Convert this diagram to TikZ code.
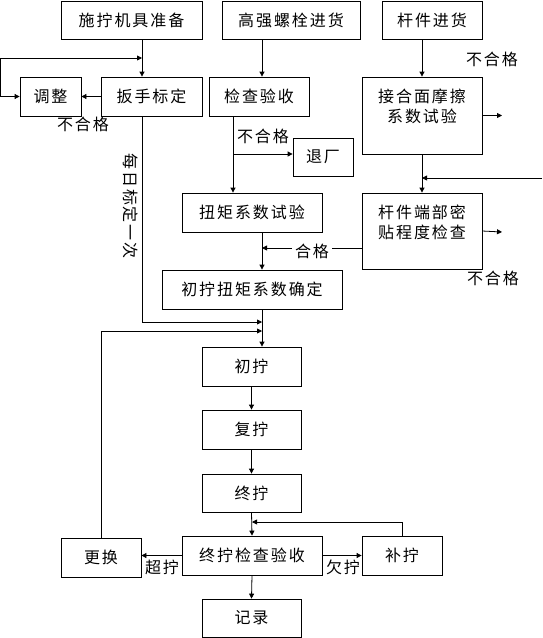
\documentclass[tikz,border=0pt]{standalone}
\usepackage{fontspec}
\newfontfamily\cjk[LetterSpace=12]{Noto Sans CJK SC}
\usetikzlibrary{arrows.meta, positioning, calc}
\newcommand{\cjkfont}{\cjk\fontsize{16}{20}\selectfont}
\tikzset{
  flowbox/.style={draw, line width=0.8pt, inner sep=0pt, font=\cjkfont, minimum height=39pt}
}
\tikzset{
  flowtext/.style={font=\cjkfont, inner sep=0pt}
}

\begin{document}
\begin{tikzpicture}[x=1pt, y=-1pt, line width=0.8pt, >={Triangle[length=5pt,width=5pt]}]
  \useasboundingbox (0,0) rectangle (542,638);
  % top row
  \node[flowbox, minimum width=141pt, minimum height=38pt] (prep) at (131.5,20) {施拧机具准备};
  \node[flowbox, minimum width=138pt, minimum height=38pt] (bolt) at (291,20) {高强螺栓进货};
  \node[flowbox, minimum width=100pt, minimum height=38pt] (rod) at (432,20) {杆件进货};
  % second row
  \node[flowbox, minimum width=61pt] (adj) at (50.5,96.5) {调整};
  \node[flowbox, minimum width=101pt] (cal) at (151.5,96.5) {扳手标定};
  \node[flowbox, minimum width=100pt] (insp) at (259,96.5) {检查验收};
  \node[flowbox, minimum width=60pt, minimum height=38pt] (ret) at (323,157) {退厂};
  \node[flowbox, minimum width=120pt, minimum height=77pt,
    label={[flowtext, align=center, yshift=9pt]center:接合面摩擦\\系数试验}] (fric) at (422,115.5) {};
  \node[flowbox, minimum width=120pt, minimum height=76pt,
    label={[flowtext, align=center, yshift=9pt]center:杆件端部密\\贴程度检查}] (fit) at (422,231) {};
  \node[flowbox, minimum width=140pt] (torq) at (252,212.5) {扭矩系数试验};
  \node[flowbox, minimum width=180pt] (coef) at (252,289.5) {初拧扭矩系数确定};
  % tightening chain
  \node[flowbox, minimum width=99pt] (first) at (251.5,366.5) {初拧};
  \node[flowbox, minimum width=99pt] (second) at (251.5,429.5) {复拧};
  \node[flowbox, minimum width=99pt, minimum height=38pt] (final) at (251.5,493) {终拧};
  \node[flowbox, minimum width=140pt] (check) at (252,555.5) {终拧检查验收};
  \node[flowbox, minimum width=80pt] (repl) at (101,557.5) {更换};
  \node[flowbox, minimum width=80pt] (supp) at (402,555.5) {补拧};
  \node[flowbox, minimum width=99pt, minimum height=38pt] (rec) at (251.5,618) {记录};

  % columns and joints
  \coordinate (colA) at (142,0);
  \coordinate (colB) at (262,0);
  \coordinate (colC) at (233,0);
  \coordinate (lp) at (0.5,96.5);
  \coordinate (jA) at (142,58);
  \coordinate (jB) at (262,322);
  \coordinate (jC) at (262,331);
  \coordinate (jD) at (233,154);
  \coordinate (jE) at (262,248);
  \coordinate (jF) at (252,522);
  \coordinate (fo) at (502,115.5);
  \coordinate (so) at (502,232);
  \coordinate (rin) at (542,178);

  % wrench calibration
  \draw[->] (prep.south -| colA) -- (cal.north -| colA);
  \draw[->] (lp) -- (adj.west);
  \draw[->] (lp) |- (jA);
  \draw[->] (cal.west) -- (adj.east);
  \node[flowtext] (ngA) at (83,124) {不合格};
  \draw[->] (cal.south -| colA) |- (jB);
  \node[flowtext, rotate=-90] (daily) at (131,206) {每日标定一次};
  \draw[->] (repl.north) |- (jC);
  % bolts
  \draw[->] (bolt.south -| colB) -- (insp.north -| colB);
  \draw[->] (insp.south -| colC) -- (torq.north -| colC);
  \draw[->] (jD) -- (ret.west |- jD);
  \node[flowtext] (ngB) at (263,136) {不合格};
  \draw[->] (torq.south -| colB) -- (coef.north -| colB);
  \draw[->] (coef.south -| colB) -- (first.north -| colB);
  % rods
  \draw[->] (rod.south -| fric.north) -- (fric.north);
  \draw[->] (fric.east) -- (fo);
  \node[flowtext] (ngC) at (492,59) {不合格};
  \draw[->] (fric.south) -- (fit.north);
  \draw[->] (rin) -- (rin -| fit.north);
  \draw[->] (fit.east) -- (so);
  \node[flowtext] (ngD) at (493,278) {不合格};
  \draw[->] (fit.west |- jE) -- (jE);
  \node[flowtext, fill=white, inner xsep=3pt] (ok) at (312,251) {合格};
  % tightening
  \draw[->] (first.south) -- (second.north);
  \draw[->] (second.south) -- (final.north);
  \draw[->] (final.south) -- (check.north);
  \draw[->] (supp.north) |- (jF);
  \draw[->] (check.west) -- (check.west -| repl.east);
  \node[flowtext] (over) at (162,567) {超拧};
  \draw[->] (check.east) -- (check.east -| supp.west);
  \node[flowtext] (under) at (343,567) {欠拧};
  \draw[->] (check.south) -- (rec.north);
\end{tikzpicture}
\end{document}
